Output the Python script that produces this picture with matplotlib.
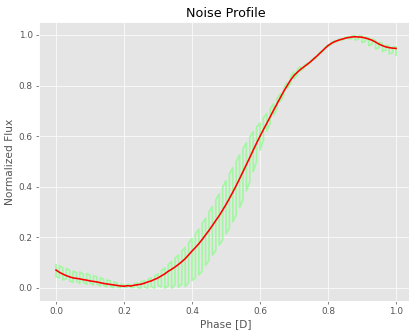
import numpy as np
import matplotlib
matplotlib.use("Agg")
import matplotlib.pyplot as plt

# Phase grid of the folded light curve
phase = [round(0.01 * i, 2) for i in range(101)]

# Mean normalized flux at each phase
mean_flux = [
    0.071, 0.062, 0.055, 0.049, 0.044, 0.040, 0.038, 0.036, 0.033, 0.031,
    0.028, 0.026, 0.024, 0.021, 0.018, 0.016, 0.014, 0.012, 0.010, 0.008,
    0.007, 0.009, 0.008, 0.011, 0.013, 0.015, 0.019, 0.024, 0.028, 0.034,
    0.040, 0.048, 0.056, 0.066, 0.074, 0.083, 0.093, 0.104, 0.116, 0.131,
    0.146, 0.160, 0.175, 0.192, 0.210, 0.228, 0.247, 0.267, 0.286, 0.308,
    0.330, 0.354, 0.379, 0.405, 0.432, 0.460, 0.488, 0.516, 0.545, 0.573,
    0.600, 0.626, 0.651, 0.677, 0.703, 0.728, 0.753, 0.778, 0.800, 0.822,
    0.840, 0.853, 0.865, 0.875, 0.885, 0.896, 0.908, 0.920, 0.933, 0.946,
    0.958, 0.967, 0.974, 0.979, 0.983, 0.987, 0.990, 0.992, 0.993, 0.992,
    0.991, 0.988, 0.984, 0.979, 0.972, 0.964, 0.958, 0.953, 0.950, 0.948,
    0.947,
]

# Upper and lower extent of the individual cycles at each phase
flux_high = [
    0.092, 0.088, 0.080, 0.077, 0.070, 0.066, 0.061, 0.063, 0.055, 0.057,
    0.050, 0.048, 0.044, 0.040, 0.035, 0.031, 0.028, 0.024, 0.019, 0.015,
    0.012, 0.014, 0.013, 0.017, 0.020, 0.024, 0.028, 0.034, 0.040, 0.048,
    0.056, 0.068, 0.080, 0.092, 0.104, 0.118, 0.130, 0.146, 0.160, 0.178,
    0.196, 0.214, 0.232, 0.254, 0.276, 0.300, 0.322, 0.348, 0.372, 0.398,
    0.424, 0.450, 0.476, 0.500, 0.526, 0.550, 0.574, 0.596, 0.618, 0.636,
    0.652, 0.672, 0.690, 0.708, 0.728, 0.748, 0.768, 0.790, 0.812, 0.836,
    0.854, 0.866, 0.874, 0.880, 0.888, 0.899, 0.911, 0.923, 0.936, 0.949,
    0.961, 0.970, 0.977, 0.982, 0.986, 0.990, 0.993, 0.996, 0.997, 0.996,
    0.995, 0.992, 0.989, 0.984, 0.978, 0.972, 0.966, 0.960, 0.956, 0.953,
    0.952,
]

flux_low = [
    0.045, 0.040, 0.032, 0.036, 0.028, 0.022, 0.027, 0.018, 0.024, 0.015,
    0.020, 0.012, 0.016, 0.008, 0.010, 0.004, 0.006, 0.002, 0.004, 0.002,
    0.003, 0.004, 0.002, 0.003, 0.002, 0.000, 0.004, 0.000, 0.006, 0.000,
    0.010, 0.004, 0.000, 0.008, 0.000, 0.012, 0.004, 0.016, 0.006, 0.022,
    0.030, 0.040, 0.052, 0.068, 0.090, 0.110, 0.130, 0.148, 0.170, 0.190,
    0.214, 0.238, 0.262, 0.290, 0.318, 0.350, 0.384, 0.420, 0.460, 0.500,
    0.545, 0.585, 0.620, 0.652, 0.682, 0.710, 0.738, 0.764, 0.788, 0.810,
    0.828, 0.842, 0.858, 0.870, 0.882, 0.893, 0.905, 0.917, 0.930, 0.943,
    0.955, 0.964, 0.971, 0.976, 0.980, 0.984, 0.986, 0.985, 0.980, 0.984,
    0.970, 0.976, 0.958, 0.965, 0.945, 0.950, 0.935, 0.940, 0.925, 0.930,
    0.920,
]

x_ticks = [0.0, 0.2, 0.4, 0.6, 0.8, 1.0]
y_ticks = [0.0, 0.2, 0.4, 0.6, 0.8, 1.0]

plt.style.use("ggplot")

DPI = 64
fig = plt.figure(figsize=(409 / DPI, 331 / DPI), dpi=DPI)
ax = fig.add_axes([0.0954, 0.0917, 0.9144, 0.8408])

# Spread of the cycles: vertical strokes joined alternately along top and bottom
zx, zy = [], []
for i, p in enumerate(phase):
    pair = (flux_high[i], flux_low[i]) if i % 2 == 0 else (flux_low[i], flux_high[i])
    zx.extend([p, p])
    zy.extend(pair)
ax.plot(zx, zy, color="#98FB98", lw=2.0, alpha=0.85, zorder=2)

# Mean profile
ax.plot(phase, mean_flux, color="red", lw=1.8, zorder=3)

ax.set_xlim(-0.05, 1.05)
ax.set_ylim(-0.05, 1.05)
ax.set_xticks(x_ticks)
ax.set_yticks(y_ticks)
ax.set_title("Noise Profile")
ax.set_xlabel("Phase [D]")
ax.set_ylabel("Normalized Flux")

fig.savefig("out.png", dpi=DPI)
